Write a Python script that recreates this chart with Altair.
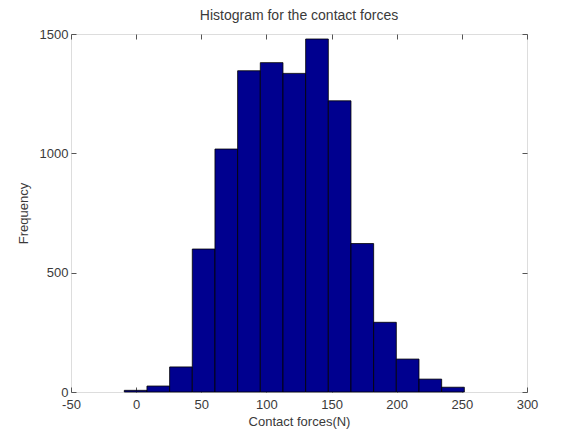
import altair as alt
import pandas as pd

bin_start = [-9.1, 8.3, 25.7, 43.1, 60.5, 77.9, 95.3, 112.7, 130.1, 147.5, 164.9, 182.3, 199.7, 217.1, 234.5]
bin_end = [8.3, 25.7, 43.1, 60.5, 77.9, 95.3, 112.7, 130.1, 147.5, 164.9, 182.3, 199.7, 217.1, 234.5, 251.9]
counts = [7, 25, 105, 599, 1018, 1346, 1380, 1335, 1479, 1220, 622, 292, 138, 54, 20]

x_ticks = [-50, 0, 50, 100, 150, 200, 250, 300]
y_ticks = [0, 500, 1000, 1500]

df = pd.DataFrame({"start": bin_start, "end": bin_end, "count": counts})

FONT = "Liberation Sans"
TXT = "#3a3a3a"
AX = "#555555"
xs = alt.Scale(domain=[-50, 300], nice=False, zero=False)
ys = alt.Scale(domain=[0, 1500], nice=False)

base = alt.Chart(df)

bars = base.mark_bar(color="#00008F", stroke="#000000", strokeWidth=0.8).encode(
    x=alt.X("start:Q", scale=xs, axis=alt.Axis(
        values=x_ticks, ticks=False, domain=False, grid=False, labelFlush=False,
        labelExpr="'' + datum.value",
        labelFontSize=13, labelColor=TXT, labelFont=FONT, labelPadding=6,
        title="Contact forces(N)", titleFont=FONT, titleFontSize=13,
        titleFontWeight="normal", titleColor=TXT, titlePadding=4)),
    x2="end:Q",
    y=alt.Y("count:Q", scale=ys, axis=alt.Axis(
        values=y_ticks, ticks=False, domain=False, grid=False,
        labelExpr="'' + datum.value",
        labelFontSize=13, labelColor=TXT, labelFont=FONT, labelPadding=3,
        title="Frequency", titleFont=FONT, titleFontSize=13,
        titleFontWeight="normal", titleColor=TXT, titlePadding=9)),
    y2=alt.datum(0),
)

tick_common = dict(labels=False, domain=False, grid=False, title=None,
                   tickSize=5, tickColor=AX, tickWidth=1, offset=-5)

ticks_bl = base.mark_point(opacity=0).encode(
    x=alt.X("start:Q", scale=xs, axis=alt.Axis(values=x_ticks, orient="bottom", **tick_common)),
    y=alt.Y("count:Q", scale=ys, axis=alt.Axis(values=y_ticks, orient="left", **tick_common)),
)
ticks_tr = base.mark_point(opacity=0).encode(
    x=alt.X("start:Q", scale=xs, axis=alt.Axis(values=x_ticks, orient="top", **tick_common)),
    y=alt.Y("count:Q", scale=ys, axis=alt.Axis(values=y_ticks, orient="right", **tick_common)),
)

chart = alt.layer(bars, ticks_bl, ticks_tr).resolve_axis(
    x="independent", y="independent"
).properties(
    width=456, height=358,
    autosize=alt.AutoSizeParams(type="none"),
    padding={"left": 71, "top": 34, "right": 56, "bottom": 40},
    title=alt.TitleParams("Histogram for the contact forces", font=FONT, fontSize=14,
                          fontWeight="normal", color=TXT, offset=5, anchor="middle"),
).configure_view(stroke=AX, strokeWidth=1).configure(background="white")

chart.save("out.html", embed_options={"renderer": "svg", "actions": False})
